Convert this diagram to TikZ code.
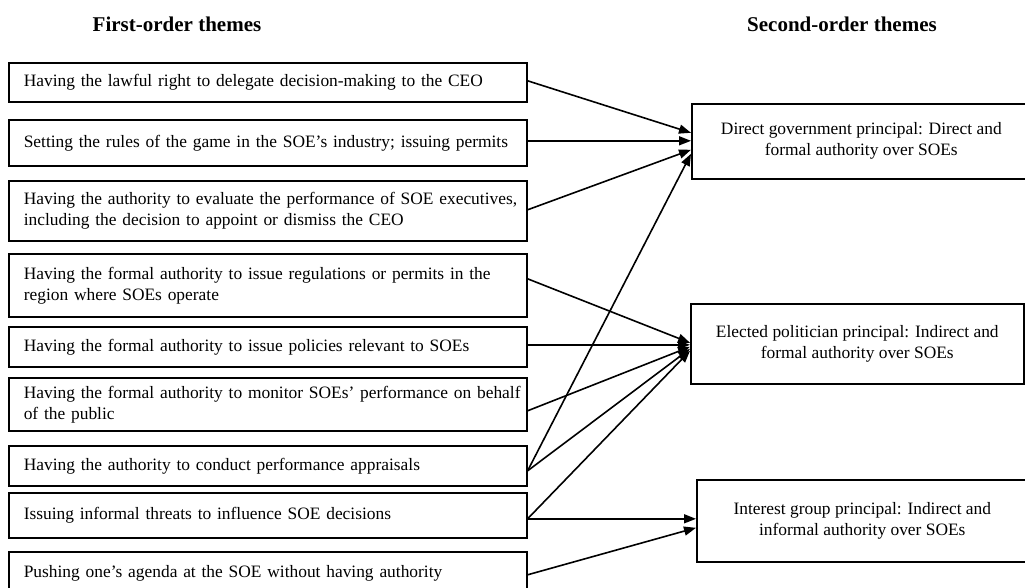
\documentclass[tikz,border=0pt]{standalone}
\usepackage{fontspec}
\setmainfont{Liberation Serif}
\usetikzlibrary{arrows.meta}
\newcommand{\oneline}[1]{\mbox{#1}}
\begin{document}
\begin{tikzpicture}[x=1pt,y=-1pt,
  every node/.style={font=\fontsize{17.4}{21}\selectfont},
  lbox/.style={draw, line width=1.6pt, anchor=north west, minimum width=518pt,
    text width=488pt, align=left, inner xsep=15pt, inner ysep=0pt},
  rbox/.style={draw, line width=1.6pt, anchor=north west, align=center, inner sep=0pt},
  head/.style={font=\fontsize{21}{25}\selectfont\bfseries, anchor=base},
  arr/.style={line width=1.6pt, -{Triangle[length=12pt,width=9pt]}}]
\useasboundingbox (0,0) rectangle (1025,587);
\node[head] (h1) at (177,31) {First-order themes};
\node[head] (h2) at (842,31) {Second-order themes};
\node[lbox, minimum height=39pt] (l1) at (8,62) {\oneline{Having the lawful right to delegate decision-making to the CEO}};
\node[lbox, minimum height=46pt] (l2) at (8,119) {\oneline{Setting the rules of the game in the SOE’s industry; issuing permits}};
\node[lbox, minimum height=60pt] (l3) at (8,180) {\makebox[494pt][s]{Having the authority to evaluate the performance of SOE executives,}\\\oneline{including the decision to appoint or dismiss the CEO}};
\node[lbox, minimum height=63pt] (l4) at (8,253) {\oneline{Having the formal authority to issue regulations or permits in the}\\\oneline{region where SOEs operate}};
\node[lbox, minimum height=40pt] (l5) at (8,326) {\oneline{Having the formal authority to issue policies relevant to SOEs}};
\node[lbox, minimum height=53pt] (l6) at (8,377) {\oneline{Having the formal authority to monitor SOEs’ performance on behalf}\\\oneline{of the public}};
\node[lbox, minimum height=40pt] (l7) at (8,445) {\oneline{Having the authority to conduct performance appraisals}};
\node[lbox, minimum height=45pt] (l8) at (8,492) {\oneline{Issuing informal threats to influence SOE decisions}};
\node[lbox, minimum height=44pt] (l9) at (8,551) {\oneline{Pushing one’s agenda at the SOE without having authority}};
\node[rbox, minimum width=339pt, minimum height=75pt] (dg) at (691,103) {Direct government principal: Direct and\\formal authority over SOEs};
\node[rbox, minimum width=333pt, minimum height=80pt] (ep) at (690,303) {Elected politician principal: Indirect and\\formal authority over SOEs};
\node[rbox, minimum width=331pt, minimum height=82pt] (ig) at (696,479) {Interest group principal: Indirect and\\informal authority over SOEs};
\draw[arr] ([yshift=1.5pt]l1.east) -- ([yshift=8.5pt]dg.west);
\draw[arr] ([yshift=2pt]l2.east) -- ([yshift=0.5pt]dg.west);
\draw[arr] ([yshift=1pt]l3.east) -- ([yshift=-8.5pt]dg.west);
\draw[arr] ([yshift=-5pt]l7.east) -- ([yshift=-12.5pt]dg.west);
\draw[arr] ([yshift=6.5pt]l4.east) -- ([yshift=1pt]ep.west);
\draw[arr] ([yshift=2pt]l5.east) -- ([yshift=-1pt]ep.west);
\draw[arr] ([yshift=-6.5pt]l6.east) -- ([yshift=-3pt]ep.west);
\draw[arr] ([yshift=-5pt]l7.east) -- ([yshift=-5pt]ep.west);
\draw[arr] ([yshift=-3.5pt]l8.east) -- ([yshift=-7pt]ep.west);
\draw[arr] ([yshift=-3.5pt]l8.east) -- ([yshift=2pt]ig.west);
\draw[arr] ([yshift=-1pt]l9.east) -- ([yshift=-7pt]ig.west);
\end{tikzpicture}
\end{document}
